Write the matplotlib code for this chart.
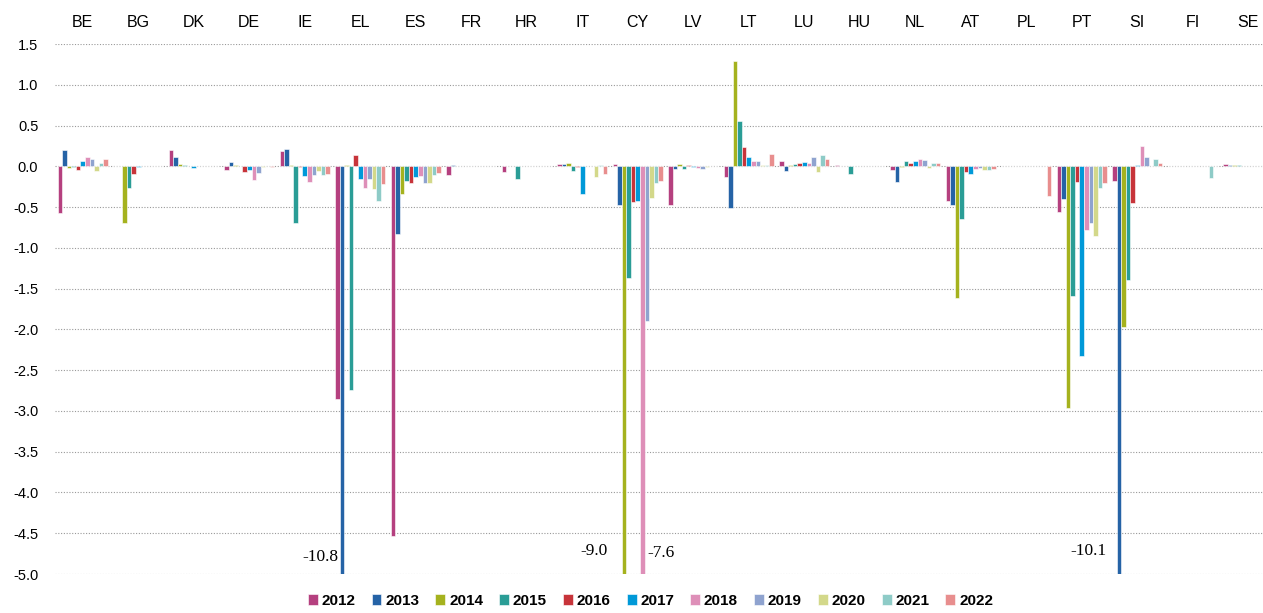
import matplotlib
matplotlib.use("Agg")
import matplotlib.pyplot as plt
import numpy as np

countries = ["BE", "BG", "DK", "DE", "IE", "EL", "ES", "FR", "HR", "IT", "CY",
             "LV", "LT", "LU", "HU", "NL", "AT", "PL", "PT", "SI", "FI", "SE"]
years = ["2012", "2013", "2014", "2015", "2016", "2017",
         "2018", "2019", "2020", "2021", "2022"]
colors = ["#B5407F", "#2563A6", "#A5B21E", "#2A9D96", "#C7343A", "#0099D8",
          "#DE8FB8", "#8FA3CF", "#D3D88A", "#8ECBC7", "#E88E8E"]

# one list per year, values in country order
v2012 = [-0.57, 0.0, 0.20, -0.05, 0.19, -2.85, -4.53, -0.11, -0.07, 0.025, 0.025,
         -0.48, -0.13, 0.06, 0.01, -0.04, -0.42, 0.0, -0.56, -0.18, 0.0, 0.025]
v2013 = [0.20, 0.0, 0.11, 0.05, 0.21, -10.8, -0.83, 0.015, 0.0, 0.025, -0.47,
         -0.03, -0.51, -0.06, 0.005, -0.19, -0.47, 0.0, -0.40, -10.1, 0.0, 0.015]
v2014 = [-0.02, -0.70, 0.025, 0.015, 0.01, 0.01, -0.34, 0.005, 0.0, 0.045, -9.0,
         0.025, 1.29, 0.015, 0.0, -0.01, -1.61, 0.0, -2.96, -1.97, 0.0, 0.01]
v2015 = [-0.01, -0.26, 0.015, 0.005, -0.70, -2.74, -0.18, 0.005, -0.16, -0.06, -1.37,
         -0.03, 0.56, 0.025, -0.10, 0.06, -0.65, 0.0, -1.585, -1.40, 0.0, 0.01]
v2016 = [-0.05, -0.09, 0.005, -0.07, -0.01, 0.14, -0.21, 0.005, 0.005, -0.01, -0.44,
         0.015, 0.24, 0.035, 0.0, 0.045, -0.07, 0.0, -0.19, -0.45, 0.0, 0.005]
v2017 = [0.06, -0.01, -0.015, -0.05, -0.12, -0.16, -0.13, 0.005, 0.005, -0.34, -0.42,
         -0.01, 0.11, 0.055, 0.0, 0.065, -0.09, 0.0, -2.33, 0.01, 0.0, 0.005]
v2018 = [0.11, 0.005, 0.005, -0.17, -0.19, -0.27, -0.12, 0.005, 0.005, 0.005, -7.6,
         -0.02, 0.065, 0.04, 0.0, 0.085, -0.03, 0.0, -0.78, 0.255, 0.0, 0.005]
v2019 = [0.09, 0.005, 0.005, -0.08, -0.11, -0.16, -0.20, 0.005, 0.005, 0.005, -1.90,
         -0.03, 0.065, 0.11, 0.0, 0.075, -0.015, 0.0, -0.70, 0.115, 0.0, 0.005]
v2020 = [-0.06, 0.005, 0.005, -0.01, -0.06, -0.28, -0.20, 0.005, 0.005, -0.13, -0.39,
         -0.005, 0.015, -0.07, 0.0, -0.02, -0.04, 0.005, -0.85, 0.005, 0.0, 0.005]
v2021 = [0.04, 0.005, 0.005, 0.005, -0.11, -0.43, -0.11, 0.005, 0.005, 0.015, -0.20,
         0.0, 0.01, 0.135, 0.0, 0.035, -0.05, 0.005, -0.27, 0.085, -0.14, 0.005]
v2022 = [0.09, 0.005, 0.005, -0.01, -0.09, -0.22, -0.08, 0.005, 0.005, -0.10, -0.18,
         0.005, 0.155, 0.085, 0.0, 0.035, -0.03, -0.36, -0.20, 0.045, 0.0, 0.005]
series = [v2012, v2013, v2014, v2015, v2016, v2017,
          v2018, v2019, v2020, v2021, v2022]

# values beyond the axis floor, labelled on the chart
clipped = [("EL", "2013", "-10.8"), ("CY", "2014", "-9.0"),
           ("CY", "2018", "-7.6"), ("SI", "2013", "-10.1")]

plt.rcParams["font.family"] = ["Liberation Sans", "DejaVu Sans"]

fig = plt.figure(figsize=(12.63, 6.13), dpi=100)
ax = fig.add_axes([55 / 1263, 39 / 613, 1 - 55 / 1263, (574 - 44) / 613])

x = np.arange(len(countries))
n = len(years)
w = 0.9 / n
for j, (yr, vals, c) in enumerate(zip(years, series, colors)):
    ax.bar(x + (j - (n - 1) / 2) * w, vals, width=w, color=c,
           edgecolor="white", linewidth=0.4, label=yr, zorder=3)

ax.set_ylim(-5.0, 1.5)
ax.set_xlim(-0.5, -0.5 + (1263 - 55) / 55.5)
ax.set_yticks(np.arange(-5.0, 1.51, 0.5))
ax.yaxis.set_major_formatter(matplotlib.ticker.FormatStrFormatter("%.1f"))
ax.tick_params(axis="y", length=0, pad=12, labelsize=10.5)
ax.grid(axis="y", color="#999999", linestyle=(0, (1, 1.5)), linewidth=0.8, zorder=0)

ax.set_xticks(x)
ax.set_xticklabels(countries)
ax.xaxis.tick_top()
ax.tick_params(axis="x", length=0, pad=10, labelsize=11.5)
for s in ax.spines.values():
    s.set_visible(False)

# label placement: (x offset in points, y position)
label_pos = {"-10.8": (-3, -4.79), "-9.0": (-12, -4.72),
             "-7.6": (4, -4.74), "-10.1": (-9, -4.72)}
for ctry, yr, txt in clipped:
    i = countries.index(ctry)
    j = years.index(yr)
    bx = i + (j - (n - 1) / 2) * w
    off, ypos = label_pos[txt]
    ax.annotate(txt, xy=(bx, ypos), xytext=(off, 0), textcoords="offset points",
                ha="right" if off < 0 else "left", va="center",
                fontsize=12.5, family=["Liberation Serif", "DejaVu Serif"], zorder=5)

fig.legend(loc="lower center", bbox_to_anchor=(0.515, -0.014), ncol=n, frameon=False,
           handlelength=0.65, handleheight=0.65, handletextpad=0.25, columnspacing=1.05,
           prop={"weight": "bold", "size": 11})

fig.savefig("out.png", dpi=100)
